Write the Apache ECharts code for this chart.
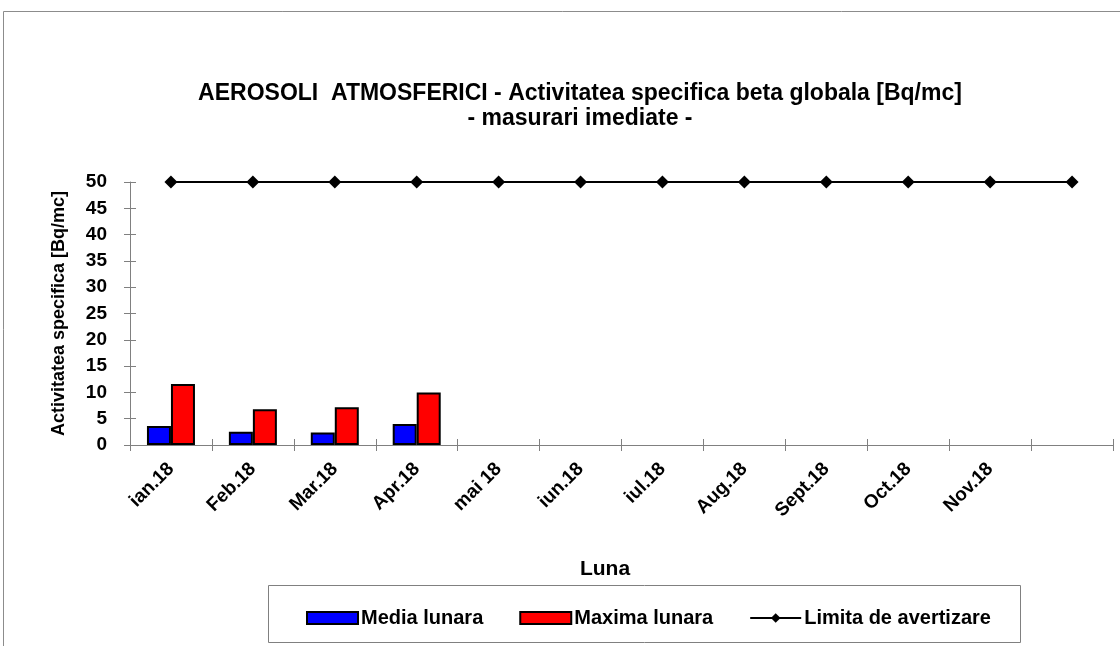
<!DOCTYPE html>
<html lang="ro">
<head>
    <meta charset="UTF-8">
    <title>Aerosoli atmosferici</title>
    <style>
        html, body { margin: 0; padding: 0; background: #fff; }
        #chart { width: 1120px; height: 646px; }
    </style>
</head>
<body>
<div id="chart"></div>
<script src="https://cdn.jsdelivr.net/npm/echarts@6/dist/echarts.min.js"></script>
<script>
    // date
    var luni = ['ian.18', 'Feb.18', 'Mar.18', 'Apr.18', 'mai 18', 'iun.18', 'iul.18',
        'Aug.18', 'Sept.18', 'Oct.18', 'Nov.18', ''];
    var mediaLunara = [3.6, 2.5, 2.4, 4.0, null, null, null, null, null, null, null, null];
    var maximaLunara = [11.6, 6.8, 7.2, 10.0, null, null, null, null, null, null, null, null];
    var limitaAvertizare = [50, 50, 50, 50, 50, 50, 50, 50, 50, 50, 50, 50];
    var yMin = 0, yMax = 50, yStep = 5;

    var font = 'Liberation Sans, Arial, sans-serif';
    var axisColor = '#808080';

    var myChart = echarts.init(document.getElementById('chart'));

    function catAxis(inside) {
        return {
            type: 'category',
            data: luni,
            position: 'bottom',
            boundaryGap: true,
            axisLine: { show: !inside, lineStyle: { color: axisColor, width: 1 } },
            axisTick: { show: true, inside: inside, length: 6, lineStyle: { color: axisColor } },
            axisLabel: {
                show: !inside,
                interval: 0,
                rotate: 45,
                margin: 21,
                color: '#000',
                fontFamily: font,
                fontWeight: 'bold',
                fontSize: 19
            },
            splitLine: { show: false }
        };
    }

    function valAxis(inside) {
        return {
            type: 'value',
            position: 'left',
            min: yMin,
            max: yMax,
            interval: yStep,
            name: inside ? '' : 'Activitatea specifica [Bq/mc]',
            nameLocation: 'middle',
            nameGap: 62,
            nameTextStyle: { color: '#000', fontFamily: font, fontWeight: 'bold', fontSize: 18 },
            axisLine: { show: !inside, lineStyle: { color: axisColor, width: 1 } },
            axisTick: { show: true, inside: inside, length: 6, lineStyle: { color: axisColor } },
            axisLabel: {
                show: !inside,
                margin: 23,
                color: '#000',
                fontFamily: font,
                fontWeight: 'bold',
                fontSize: 19
            },
            splitLine: { show: false }
        };
    }

    var option = {
        backgroundColor: '#fff',
        animation: false,
        title: [
            {
                text: 'AEROSOLI  ATMOSFERICI - Activitatea specifica beta globala [Bq/mc]\n- masurari imediate -',
                left: 575,
                top: 76,
                textAlign: 'center',
                textStyle: { color: '#000', fontFamily: font, fontWeight: 'bold', fontSize: 23, lineHeight: 25 }
            },
            {
                text: 'Luna',
                left: 600,
                top: 554,
                textAlign: 'center',
                textStyle: { color: '#000', fontFamily: font, fontWeight: 'bold', fontSize: 21 }
            }
        ],
        graphic: [
            {
                type: 'rect',
                shape: { x: 3.5, y: 11.5, width: 1130, height: 700 },
                style: { fill: 'none', stroke: '#8c8c8c', lineWidth: 1 },
                silent: true, z: -1
            },
            {
                type: 'rect',
                shape: { x: 268.5, y: 585.5, width: 752, height: 57 },
                style: { fill: '#fff', stroke: '#808080', lineWidth: 1 },
                silent: true, z: -1
            }
        ],
        legend: {
            left: 301,
            top: 603,
            itemWidth: 51,
            itemHeight: 12,
            itemGap: 36,
            textStyle: { color: '#000', fontFamily: font, fontWeight: 'bold', fontSize: 20, padding: [0, 0, 0, -2] },
            data: [
                { name: 'Media lunara', icon: 'rect' },
                { name: 'Maxima lunara', icon: 'rect' },
                { name: 'Limita de avertizare' }
            ]
        },
        grid: { left: 130, right: 7, top: 182, bottom: 201, containLabel: false },
        xAxis: [catAxis(false), catAxis(true)],
        yAxis: [valAxis(false), valAxis(true)],
        series: [
            {
                name: 'Media lunara',
                type: 'bar',
                data: mediaLunara,
                barWidth: 24,
                barGap: '0%',
                itemStyle: { color: '#0000ff', borderColor: '#000', borderWidth: 2 }
            },
            {
                name: 'Maxima lunara',
                type: 'bar',
                data: maximaLunara,
                barWidth: 24,
                barGap: '0%',
                itemStyle: { color: '#ff0000', borderColor: '#000', borderWidth: 2 }
            },
            {
                name: 'Limita de avertizare',
                type: 'line',
                data: limitaAvertizare,
                clip: false,
                symbol: 'diamond',
                symbolSize: 13,
                lineStyle: { color: '#000', width: 2 },
                itemStyle: { color: '#000' }
            }
        ]
    };

    myChart.setOption(option);
</script>
</body>
</html>
